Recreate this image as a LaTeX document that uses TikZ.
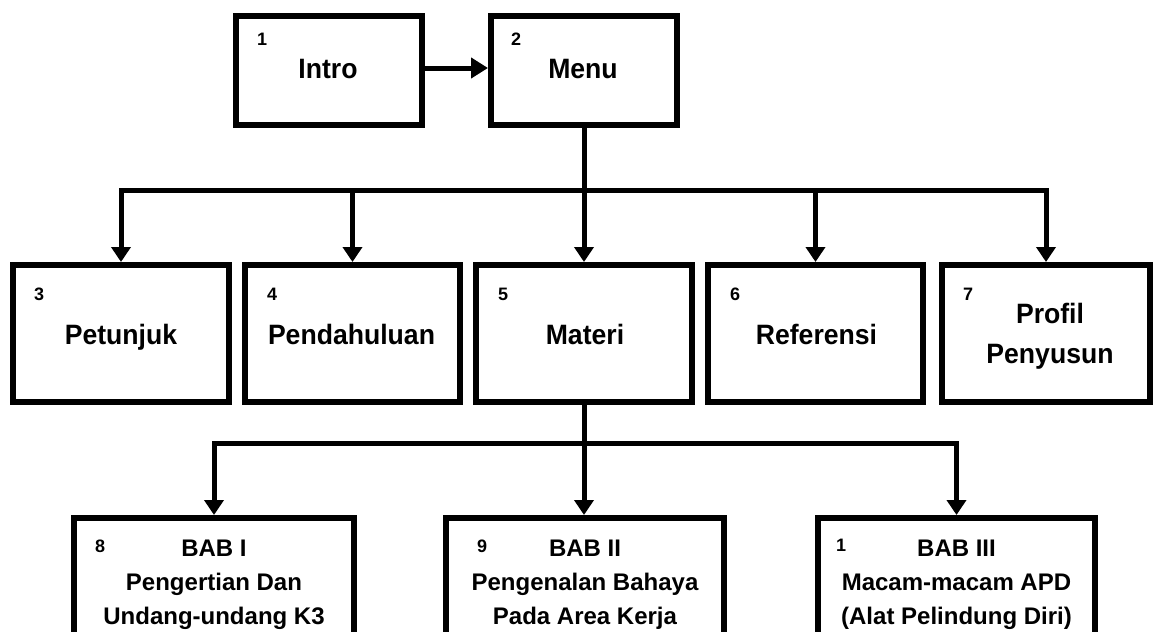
\documentclass[tikz,border=0pt]{standalone}
\usepackage{fontspec}
\setmainfont{Liberation Sans}
\newfontfamily\narrowsans[FakeStretch=0.95]{Liberation Sans}
\usetikzlibrary{arrows.meta}
\begin{document}
\begin{tikzpicture}[x=1pt,y=-1pt,
  box/.style={draw=black, line width=6pt, inner sep=0pt, fill=white},
  title/.style={font=\narrowsans\fontsize{28}{32}\selectfont\bfseries, inner sep=0pt, anchor=base},
  subtitle/.style={font=\fontsize{24}{30}\selectfont\bfseries, inner sep=0pt, anchor=base},
  num/.style={font=\fontsize{18}{20}\selectfont\bfseries, inner sep=0pt, anchor=base west},
  link/.style={draw=black, line width=5pt},
  arrow/.style={link, -{Triangle[length=15pt,width=19pt]}},
  bigarrow/.style={link, -{Triangle[length=17pt,width=20pt]}}]

\useasboundingbox (0,0) rectangle (1160,632);
\clip (0,0) rectangle (1160,632);

% ---- top row
\node[box, minimum width=186pt, minimum height=109pt] (intro) at (329,70.5) {};
\node[box, minimum width=186pt, minimum height=109pt] (menu)  at (584,70.5) {};
\node[title] (introT) at ([shift={(-1,7.5)}]intro.center) {Intro};
\node[title] (menuT)  at ([shift={(-1,7.5)}]menu.center) {Menu};
\node[num] (n1) at ([shift={(24,32)}]intro.north west) {1};
\node[num] (n2) at ([shift={(23,32)}]menu.north west) {2};

% ---- second row
\node[box, minimum width=216pt, minimum height=137pt] (petunjuk)    at (121,333.5) {};
\node[box, minimum width=215pt, minimum height=137pt] (pendahuluan) at (352.5,333.5) {};
\node[box, minimum width=216pt, minimum height=137pt] (materi)      at (584,333.5) {};
\node[box, minimum width=215pt, minimum height=137pt] (referensi)   at (815.5,333.5) {};
\node[box, minimum width=208pt, minimum height=137pt] (profil)      at (1046,333.5) {};

\node[title] (petunjukT)    at ([shift={(0,10.5)}]petunjuk.center) {Petunjuk};
\node[title] (pendahuluanT) at ([shift={(-1,10.5)}]pendahuluan.center) {Pendahuluan};
\node[title] (materiT)      at ([shift={(1,10.5)}]materi.center) {Materi};
\node[title] (referensiT)   at ([shift={(1,10.5)}]referensi.center) {Referensi};
\node[title] (profilA)      at ([shift={(4,-10.5)}]profil.center) {Profil};
\node[title] (profilB)      at ([shift={(4,29.5)}]profil.center) {Penyusun};

\node[num] (n3) at ([shift={(24,38.5)}]petunjuk.north west) {3};
\node[num] (n4) at ([shift={(25,38.5)}]pendahuluan.north west) {4};
\node[num] (n5) at ([shift={(25,38.5)}]materi.north west) {5};
\node[num] (n6) at ([shift={(25,38.5)}]referensi.north west) {6};
\node[num] (n7) at ([shift={(24,38)}]profil.north west) {7};

% ---- chapters (boxes run past the lower edge)
\node[box, minimum width=280pt, minimum height=179pt] (bab1) at (214,607.5) {};
\node[box, minimum width=278pt, minimum height=179pt] (bab2) at (585,607.5) {};
\node[box, minimum width=277pt, minimum height=179pt] (bab3) at (956.5,607.5) {};

\foreach \b/\la/\lb/\lc in {bab1/BAB I/Pengertian Dan/Undang-undang K3,
                            bab2/BAB II/Pengenalan Bahaya/Pada Area Kerja,
                            bab3/BAB III/Macam-macam APD/(Alat Pelindung Diri)}{
  \node[subtitle] (\b-a) at ([shift={(0,41)}]\b.north) {\la};
  \node[subtitle] (\b-b) at ([shift={(0,75)}]\b.north) {\lb};
  \node[subtitle] (\b-c) at ([shift={(0,109)}]\b.north) {\lc};
}

\node[num] (n8)  at ([shift={(24,37)}]bab1.north west) {8};
\node[num] (n9)  at ([shift={(34,37)}]bab2.north west) {9};
\node[num] (n10) at ([shift={(21,36)}]bab3.north west) {1};

% ---- connectors
\coordinate (railA) at (0,190);
\coordinate (railB) at (0,443);

\draw[bigarrow] (intro.east |- 0,68) -- (menu.west |- 0,68);

\draw[arrow] (menu.south) -- (menu.south |- materi.north);
\foreach \n in {petunjuk,pendahuluan,referensi,profil}
  \draw[arrow] (menu.south |- railA) -| (\n.north);

\draw[arrow] (materi.south) -- (materi.south |- bab2.north);
\foreach \n in {bab1,bab3}
  \draw[arrow] (materi.south |- railB) -| (\n.north);

\end{tikzpicture}
\end{document}
